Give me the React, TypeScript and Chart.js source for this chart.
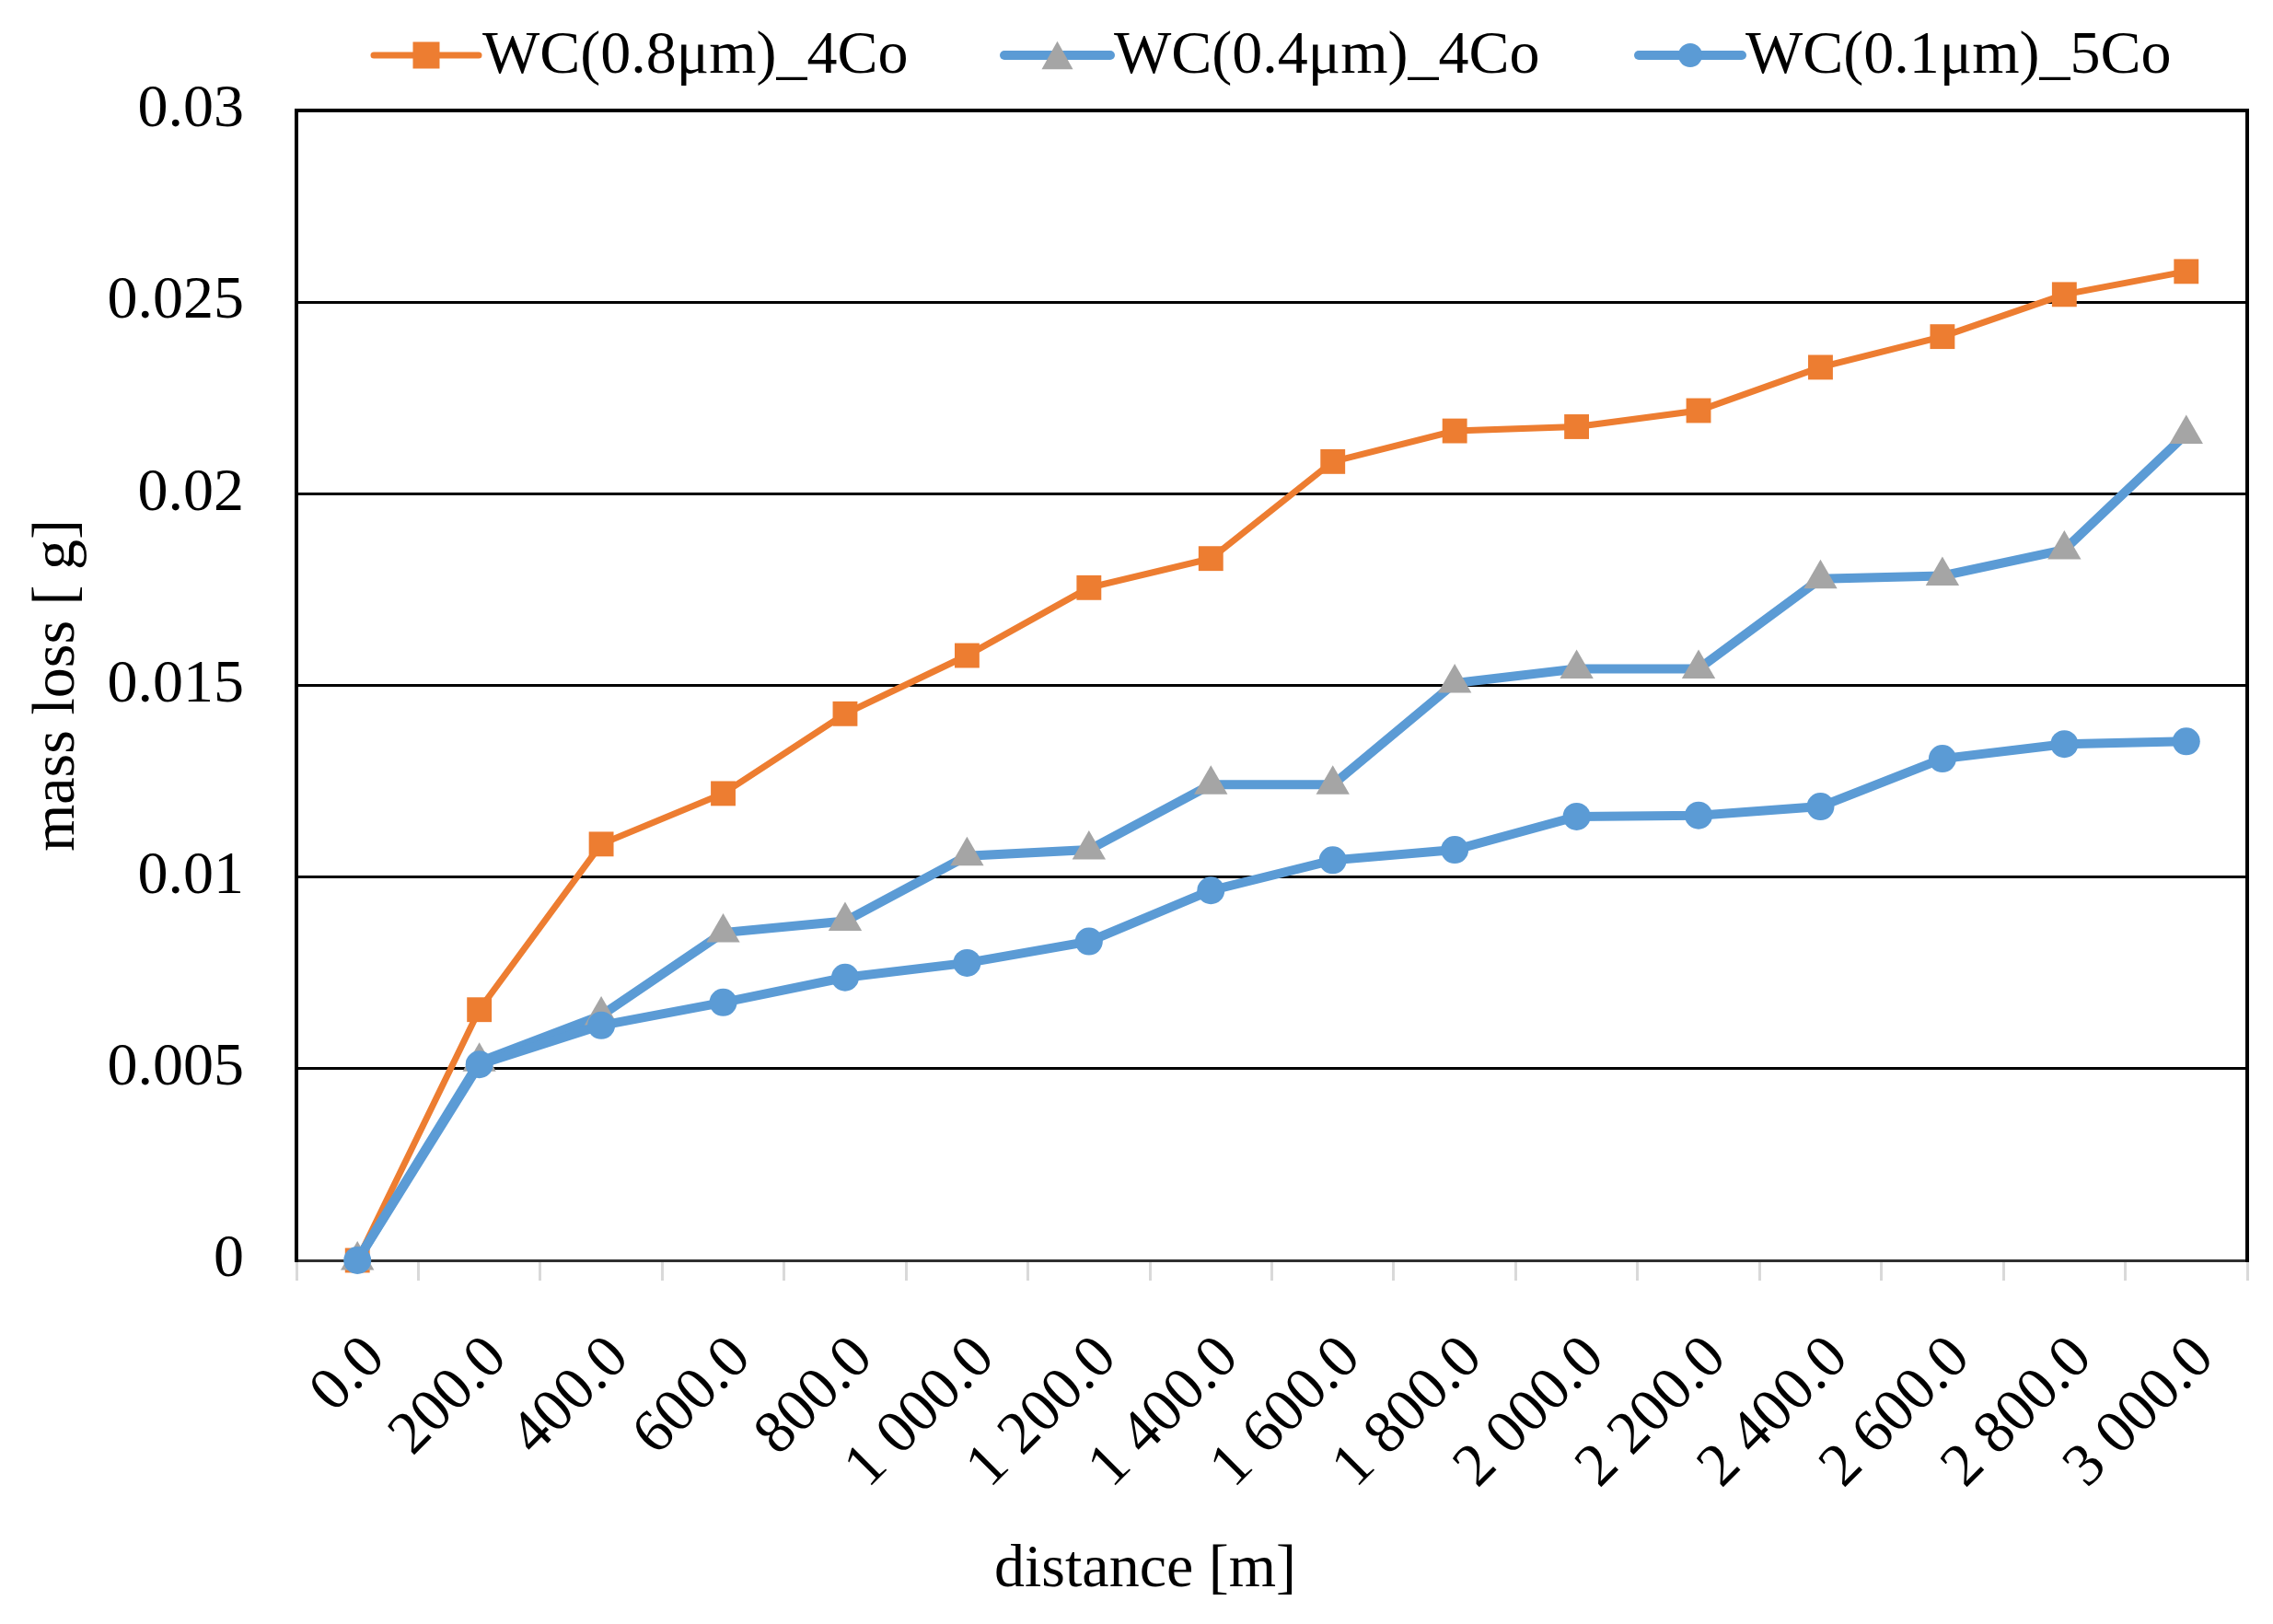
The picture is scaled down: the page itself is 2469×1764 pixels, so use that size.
import React, { useEffect, useRef } from 'react';
import { Chart, registerables } from 'chart.js';

Chart.register(...registerables);

const categories = ['0.0', '200.0', '400.0', '600.0', '800.0', '1 000.0', '1 200.0', '1 400.0', '1 600.0', '1 800.0', '2 000.0', '2 200.0', '2 400.0', '2 600.0', '2 800.0', '3 000.0'];
const wc08_4co = [0, 0.00654, 0.01086, 0.01218, 0.01426, 0.01578, 0.01755, 0.01831, 0.02084, 0.02164, 0.02175, 0.02217, 0.0233, 0.0241, 0.0252, 0.0258];
const wc04_4co = [0, 0.00518, 0.00639, 0.00855, 0.00885, 0.01055, 0.01071, 0.01241, 0.01241, 0.01506, 0.01543, 0.01543, 0.01778, 0.01786, 0.01854, 0.02156];
const wc01_5co = [0, 0.00511, 0.00613, 0.00673, 0.00738, 0.00776, 0.00832, 0.00965, 0.01044, 0.01071, 0.01158, 0.01161, 0.01184, 0.01309, 0.01347, 0.01354];
const seriesNames = ['WC(0.8μm)_4Co', 'WC(0.4μm)_4Co', 'WC(0.1μm)_5Co'];
const yMin = 0;
const yMax = 0.03;
const yStep = 0.005;
const xTitle = 'distance [m]';
const yTitle = 'mass loss [ g]';

const ORANGE = '#ED7D31';
const BLUE = '#5B9BD5';
const GRAY = '#A5A5A5';
const FONT = '"Liberation Serif", "Times New Roman", serif';
const FS = 66;

function drawMarker(ctx: CanvasRenderingContext2D, kind: string, x: number, y: number, s: number, color: string) {
  ctx.save();
  ctx.fillStyle = color;
  ctx.beginPath();
  if (kind === 'rect') {
    ctx.rect(x - s / 2, y - s / 2, s, s);
  } else if (kind === 'triangle') {
    const h = s * 0.9;
    ctx.moveTo(x, y - h / 2);
    ctx.lineTo(x + s / 2, y + h / 2);
    ctx.lineTo(x - s / 2, y + h / 2);
    ctx.closePath();
  } else {
    ctx.arc(x, y, s / 2, 0, Math.PI * 2);
  }
  ctx.fill();
  ctx.restore();
}

const framePlugin = {
  id: 'frameAndLegend',
  beforeDatasetsDraw(chart: any) {
    const { ctx, chartArea } = chart;
    const { left, top, right, bottom } = chartArea;
    ctx.save();
    ctx.strokeStyle = '#000';
    ctx.lineWidth = 4;
    ctx.lineCap = 'square';
    ctx.beginPath();
    ctx.moveTo(left, bottom);
    ctx.lineTo(left, top);
    ctx.lineTo(right, top);
    ctx.lineTo(right, bottom);
    ctx.stroke();
    ctx.restore();
  },
  afterDraw(chart: any) {
    const { ctx } = chart;
    const y = 60;
    const items = [
      { x0: 406, x1: 520, line: ORANGE, lw: 7, marker: 'rect', mc: ORANGE, ms: 29 },
      { x0: 1091, x1: 1206, line: BLUE, lw: 10, marker: 'triangle', mc: GRAY, ms: 34 },
      { x0: 1780, x1: 1892, line: BLUE, lw: 10, marker: 'circle', mc: BLUE, ms: 26 },
    ];
    ctx.save();
    items.forEach((it, i) => {
      ctx.strokeStyle = it.line;
      ctx.lineWidth = it.lw;
      ctx.lineCap = 'round';
      ctx.beginPath();
      ctx.moveTo(it.x0, y);
      ctx.lineTo(it.x1, y);
      ctx.stroke();
      drawMarker(ctx, it.marker, (it.x0 + it.x1) / 2, y, it.ms, it.mc);
      ctx.fillStyle = '#000';
      ctx.font = `${FS}px ${FONT}`;
      ctx.textAlign = 'left';
      ctx.textBaseline = 'middle';
      ctx.fillText(seriesNames[i], it.x1 + 4, y + 2);
    });
    // x axis title (centred on the whole figure, as in the original)
    ctx.fillStyle = '#000';
    ctx.font = `${FS}px ${FONT}`;
    ctx.textAlign = 'center';
    ctx.textBaseline = 'middle';
    ctx.fillText(xTitle, 1244, 1706);
    ctx.restore();
  },
};

export default function App() {
  const ref = useRef<HTMLCanvasElement | null>(null);

  useEffect(() => {
    if (!ref.current) return;
    Chart.defaults.font.family = FONT;
    Chart.defaults.color = '#000';
    const chart = new Chart(ref.current, {
      type: 'line',
      data: {
        labels: categories,
        datasets: [
          {
            label: seriesNames[0],
            data: wc08_4co,
            borderColor: ORANGE,
            backgroundColor: ORANGE,
            borderWidth: 7,
            pointStyle: 'rect',
            pointRadius: 19,
            pointBorderWidth: 0,
            pointBackgroundColor: ORANGE,
            tension: 0,
            order: 2,
            clip: false as any,
          },
          {
            label: seriesNames[1],
            data: wc04_4co,
            borderColor: BLUE,
            backgroundColor: GRAY,
            borderWidth: 10,
            pointStyle: 'triangle',
            pointRadius: 21,
            pointBorderWidth: 0,
            pointBackgroundColor: GRAY,
            tension: 0,
            order: 1,
            clip: false as any,
          },
          {
            label: seriesNames[2],
            data: wc01_5co,
            borderColor: BLUE,
            backgroundColor: BLUE,
            borderWidth: 10,
            pointStyle: 'circle',
            pointRadius: 15,
            pointBorderWidth: 0,
            pointBackgroundColor: BLUE,
            tension: 0,
            order: 0,
            clip: false as any,
          },
        ],
      },
      options: {
        animation: false,
        responsive: true,
        maintainAspectRatio: false,
        devicePixelRatio: 1,
        layout: { padding: { top: 120, right: 28, bottom: 0, left: 0 } },
        plugins: {
          legend: { display: false },
          tooltip: { enabled: false },
          title: { display: false },
        },
        scales: {
          x: {
            type: 'category',
            offset: true,
            grid: {
              display: true,
              offset: true,
              drawOnChartArea: false,
              drawTicks: true,
              tickLength: 22,
              color: '#D9D9D9',
              lineWidth: 3,
            },
            border: { display: true, color: '#303030', width: 3 },
            ticks: {
              autoSkip: false,
              maxRotation: 45,
              minRotation: 45,
              padding: 46,
              labelOffset: 20,
              color: '#000',
              font: { size: FS, family: FONT },
            },
            title: { display: false, text: xTitle },
            afterFit: (scale: any) => {
              scale.height = 395;
              scale.paddingLeft = 0;
              scale.paddingRight = 0;
            },
          },
          y: {
            type: 'linear',
            min: yMin,
            max: yMax,
            ticks: {
              stepSize: yStep,
              padding: 57,
              color: '#000',
              font: { size: FS, family: FONT },
              callback: (v: any) => {
                const n = Number(v);
                return n === 0 ? '0' : String(parseFloat(n.toFixed(3)));
              },
            },
            grid: {
              drawTicks: false,
              color: '#000',
              lineWidth: 3,
            },
            border: { display: false },
            title: {
              display: true,
              text: yTitle,
              color: '#000',
              font: { size: FS, family: FONT },
              padding: { top: 23, bottom: 0 },
            },
            afterFit: (scale: any) => {
              scale.width = 322;
            },
          },
        },
      },
      plugins: [framePlugin],
    });
    return () => chart.destroy();
  }, []);

  return (
    <div style={{ position: 'fixed', left: 0, top: 0, width: 2469, height: 1764, background: '#fff' }}>
      <canvas ref={ref} style={{ width: '100%', height: '100%' }} />
    </div>
  );
}
